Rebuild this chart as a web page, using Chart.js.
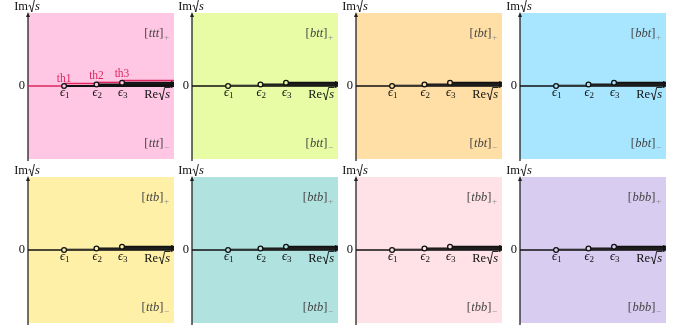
<!DOCTYPE html>
<html>
<head>
<meta charset="utf-8">
<script src="https://cdn.jsdelivr.net/npm/chart.js@4/dist/chart.umd.min.js"></script>
<style>
  html, body { margin: 0; padding: 0; background: #fff; }
  #wrap { position: relative; width: 696px; height: 328px; overflow: hidden; }
  #wrap canvas { position: absolute; }
</style>
</head>
<body>
<div id="wrap"></div>
<script>
// sheet names, one panel each (row by row)
const sheets = ['ttt', 'btt', 'tbt', 'bbt', 'ttb', 'btb', 'tbb', 'bbb'];
const sheetColors = ['#ffc7e4', '#e8fca6', '#ffdfa6', '#a8e6ff', '#fff0a8', '#b0e2e0', '#ffe1e8', '#d8cdf0'];

// thresholds on Re sqrt(s)
const epsX = [2.47, 4.69, 6.44];
const epsY = [0, 0.02, 0.045];
const epsNames = ['1', '2', '3'];

// threshold lines of the first sheet (red)
const thNames = ['th1', 'th2', 'th3'];
const thY = [0.035, 0.05, 0.075];
const thLabelY = [0.05, 0.09, 0.13];

const xMax = 10;
const sheetLabelY = [0.72, -0.78];

const PANEL = 146, PADL = 28, PADT = 13, PADR = 8, PADB = 6;
const panelLeft = [28, 192, 356, 520];
const panelTop = [13, 177];
const SERIF = '"Liberation Serif", "DejaVu Serif", serif';
const RED = '#e0245e';

// background + y axis with arrow
const panelBg = {
    id: 'panelBg',
    beforeDatasetsDraw(chart, args, opts) {
        const ctx = chart.ctx, a = chart.chartArea;
        ctx.save();
        ctx.fillStyle = opts.color;
        ctx.fillRect(a.left, a.top, a.right - a.left, a.bottom - a.top);
        // y axis
        ctx.strokeStyle = '#222';
        ctx.lineWidth = 1.3;
        ctx.beginPath();
        ctx.moveTo(a.left, a.bottom + 2);
        ctx.lineTo(a.left, a.top + 3);
        ctx.stroke();
        ctx.fillStyle = '#222';
        ctx.beginPath();
        ctx.moveTo(a.left, a.top - 1);
        ctx.lineTo(a.left - 2, a.top + 4);
        ctx.lineTo(a.left + 2, a.top + 4);
        ctx.closePath();
        ctx.fill();
        ctx.restore();
    }
};

// prefix + radical + s, drawn by hand; x = left, y = baseline
function sqrtS(ctx, x, y, prefix) {
    ctx.font = '12.5px ' + SERIF;
    ctx.textAlign = 'left';
    ctx.fillText(prefix, x, y);
    let w = ctx.measureText(prefix).width + 0.5;
    ctx.lineWidth = 0.9;
    ctx.beginPath();
    ctx.moveTo(x + w, y - 4);
    ctx.lineTo(x + w + 1.3, y - 5);
    ctx.lineTo(x + w + 3.3, y + 2);
    ctx.lineTo(x + w + 6, y - 10.5);
    ctx.stroke();
    w += 6.5;
    ctx.font = 'italic 12.5px ' + SERIF;
    ctx.fillText('s', x + w, y);
    const sw = ctx.measureText('s').width;
    ctx.beginPath();
    ctx.moveTo(x + w - 0.6, y - 10.5);
    ctx.lineTo(x + w + sw + 0.5, y - 10.5);
    ctx.stroke();
    return w + sw;
}

function sqrtWidth(ctx, prefix) {
    ctx.font = '12.5px ' + SERIF;
    let w = ctx.measureText(prefix).width + 7;
    ctx.font = 'italic 12.5px ' + SERIF;
    return w + ctx.measureText('s').width;
}

const panelText = {
    id: 'panelText',
    afterDatasetsDraw(chart, args, opts) {
        const ctx = chart.ctx, a = chart.chartArea;
        const xs = chart.scales.x, ys = chart.scales.y;
        const y0 = ys.getPixelForValue(0);
        ctx.save();
        ctx.fillStyle = '#111';
        ctx.strokeStyle = '#111';
        ctx.textBaseline = 'alphabetic';

        // Im sqrt(s)
        const wIm = sqrtWidth(ctx, 'Im');
        sqrtS(ctx, a.left - wIm / 2 - 1, a.top - 3, 'Im');

        // 0
        ctx.font = '12.5px ' + SERIF;
        ctx.textAlign = 'right';
        ctx.textBaseline = 'middle';
        ctx.fillText('0', a.left - 3, y0);
        ctx.textBaseline = 'alphabetic';

        // epsilon labels
        epsX.forEach((e, i) => {
            const px = xs.getPixelForValue(e);
            ctx.font = 'italic 12.5px ' + SERIF;
            ctx.textAlign = 'right';
            ctx.fillText('\u03F5', px + 1, y0 + 10);
            ctx.font = '9px ' + SERIF;
            ctx.textAlign = 'left';
            ctx.fillText(epsNames[i], px + 1, y0 + 12);
        });

        // Re sqrt(s)
        const wRe = sqrtWidth(ctx, 'Re');
        sqrtS(ctx, a.right - wRe - 4, y0 + 12, 'Re');

        // sheet labels
        const name = opts.name;
        [['+', sheetLabelY[0]], ['\u2212', sheetLabelY[1]]].forEach(([sgn, yv]) => {
            const py = ys.getPixelForValue(yv) + 4;
            ctx.font = '9px ' + SERIF;
            ctx.textAlign = 'right';
            const subX = a.right - 5;
            ctx.fillStyle = '#888';
            ctx.fillText(sgn, subX, py + 3);
            const sw = ctx.measureText(sgn).width;
            ctx.fillStyle = '#444';
            ctx.font = '12.5px ' + SERIF;
            ctx.fillText(']', subX - sw - 0.5, py);
            const bw = ctx.measureText(']').width;
            ctx.font = 'italic 12.5px ' + SERIF;
            ctx.fillText(name, subX - sw - 0.5 - bw, py);
            const nw = ctx.measureText(name).width;
            ctx.font = '12.5px ' + SERIF;
            ctx.fillText('[', subX - sw - 0.5 - bw - nw - 0.5, py);
        });

        // red threshold labels
        if (opts.showTh) {
            ctx.fillStyle = RED;
            ctx.font = '11.5px ' + SERIF;
            ctx.textAlign = 'center';
            thNames.forEach((t, i) => {
                ctx.fillText(t, xs.getPixelForValue(epsX[i]), ys.getPixelForValue(thLabelY[i]));
            });
        }
        ctx.restore();
    }
};

function seg(x1, x2, y) {
    return [{ x: x1, y: y }, { x: x2, y: y }];
}

function lineDs(data, color, width) {
    return { data: data, showLine: true, borderColor: color, borderWidth: width, pointRadius: 0, fill: false, order: 2 };
}

function buildDatasets(idx) {
    const ds = [];
    const isFirst = idx === 0;
    if (isFirst) {
        ds.push(lineDs(seg(0, epsX[0], 0), RED, 1.3));
        ds.push(lineDs(seg(epsX[0], xMax, 0), '#111', 2.2));
        // red threshold steps
        ds.push(lineDs(seg(epsX[0], epsX[1], thY[0]), RED, 1.4));
        ds.push(lineDs(seg(epsX[1], epsX[2], thY[1]), RED, 1.4));
        ds.push(lineDs(seg(epsX[2], xMax, thY[2]), RED, 1.4));
    } else {
        ds.push(lineDs(seg(0, xMax, 0), '#111', 1.3));
        ds.push(lineDs(seg(epsX[0], xMax, 0.01), 'rgba(60,60,60,0.45)', 2));
    }
    ds.push(lineDs(seg(epsX[1], xMax, epsY[1]), '#111', 2));
    ds.push(lineDs(seg(epsX[2], xMax, epsY[2] - 0.03), '#222', 1.6));
    ds.push(lineDs(seg(epsX[2], xMax, epsY[2] - 0.015), '#222', 1.6));
    ds.push(lineDs(seg(epsX[2], xMax, epsY[2]), '#111', 1.8));
    // end markers
    ds.push({ data: [{ x: 9.85, y: 0.02 }], pointStyle: 'line', rotation: 90, pointRadius: 3.5, borderColor: '#111', borderWidth: 1.2, order: 1 });
    // threshold circles
    ds.push({
        data: epsX.map((e, i) => ({ x: e, y: epsY[i] })),
        showLine: false,
        pointStyle: 'circle',
        pointRadius: 2.4,
        pointBackgroundColor: sheetColors[idx],
        pointBorderColor: '#111',
        pointBorderWidth: 1.3,
        order: 0
    });
    return ds;
}

const wrap = document.getElementById('wrap');
sheets.forEach((name, idx) => {
    const col = idx % 4, row = Math.floor(idx / 4);
    const cv = document.createElement('canvas');
    const w = PANEL + PADL + PADR, h = PANEL + PADT + PADB;
    cv.width = w; cv.height = h;
    cv.style.width = w + 'px'; cv.style.height = h + 'px';
    cv.style.left = (panelLeft[col] - PADL) + 'px';
    cv.style.top = (panelTop[row] - PADT) + 'px';
    wrap.appendChild(cv);
    new Chart(cv.getContext('2d'), {
        type: 'scatter',
        data: { datasets: buildDatasets(idx) },
        options: {
            responsive: false,
            animation: false,
            devicePixelRatio: 1,
            layout: { padding: { left: PADL, top: PADT, right: PADR, bottom: PADB } },
            scales: {
                x: { type: 'linear', min: 0, max: xMax, display: false },
                y: { type: 'linear', min: -1, max: 1, display: false }
            },
            plugins: {
                legend: { display: false },
                tooltip: { enabled: false },
                panelBg: { color: sheetColors[idx] },
                panelText: { name: name, showTh: idx === 0 }
            },
            clip: false
        },
        plugins: [panelBg, panelText]
    });
});
</script>
</body>
</html>
